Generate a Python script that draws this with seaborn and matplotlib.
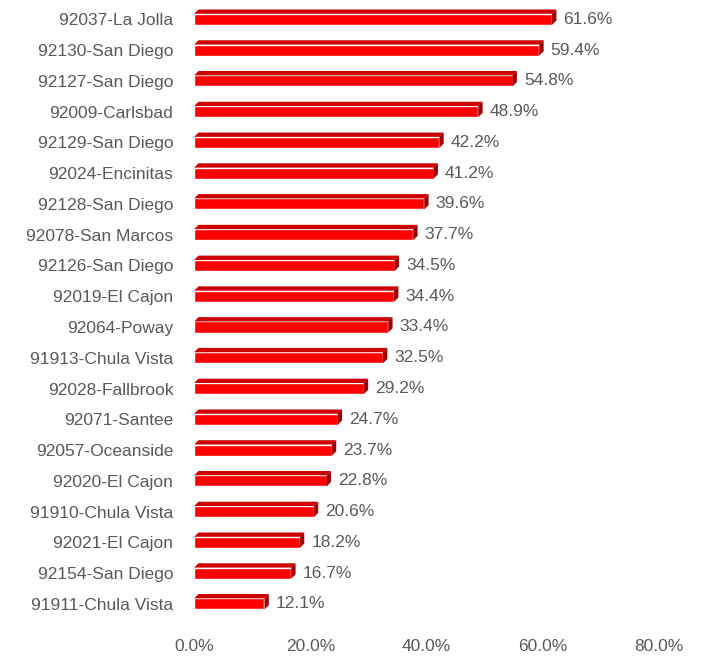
import numpy as np
import pandas as pd
import seaborn as sns
import matplotlib.pyplot as plt
from matplotlib.patches import Polygon
from matplotlib.ticker import FuncFormatter

zips = ['92037-La Jolla', '92130-San Diego', '92127-San Diego', '92009-Carlsbad',
        '92129-San Diego', '92024-Encinitas', '92128-San Diego', '92078-San Marcos',
        '92126-San Diego', '92019-El Cajon', '92064-Poway', '91913-Chula Vista',
        '92028-Fallbrook', '92071-Santee', '92057-Oceanside', '92020-El Cajon',
        '91910-Chula Vista', '92021-El Cajon', '92154-San Diego', '91911-Chula Vista']
share = [0.616, 0.594, 0.548, 0.489, 0.422, 0.412, 0.396, 0.377, 0.345, 0.344,
         0.334, 0.325, 0.292, 0.247, 0.237, 0.228, 0.206, 0.182, 0.167, 0.121]

df = pd.DataFrame({'zip': zips, 'share': share})

sns.set_style('white')
plt.rcParams['font.family'] = ['Liberation Sans', 'DejaVu Sans']
grey = '#595959'

fig = plt.figure(figsize=(7.01, 6.56), dpi=100)
ax = fig.add_axes([0.277, 0.056, 0.663, 0.938])

sns.barplot(data=df, x='share', y='zip', color='#ff0000', width=0.36,
            saturation=1, ax=ax, orient='h')
ax.set_xlim(0, 0.8)
ax.set_ylim(19.5, -0.5)

# fake 3D depth: top face and right side face
dx, dy = 0.0075, 0.14
for p in ax.patches:
    x0, yt = p.get_x(), p.get_y()
    x1, yb = x0 + p.get_width(), yt + p.get_height()
    top = Polygon([(x0, yt), (x0 + dx, yt - dy), (x1 + dx, yt - dy), (x1, yt)],
                  closed=True, facecolor='#cc0000', edgecolor='none')
    side = Polygon([(x1, yt), (x1 + dx, yt - dy), (x1 + dx, yb - dy), (x1, yb)],
                   closed=True, facecolor='#a00000', edgecolor='none')
    ax.add_patch(top)
    ax.add_patch(side)
    ax.text(x1 + dx + 0.012, yt + p.get_height() / 2, f'{p.get_width() * 100:.1f}%',
            va='center', ha='left', fontsize=12.5, color=grey)

ax.set_xticks([0, 0.2, 0.4, 0.6, 0.8])
ax.xaxis.set_major_formatter(FuncFormatter(lambda v, _: f'{v * 100:.1f}%'))
ax.tick_params(axis='x', length=0, pad=14, labelsize=12.5, colors=grey)
ax.tick_params(axis='y', length=0, pad=15, labelsize=12.5, colors=grey)
ax.set_xlabel('')
ax.set_ylabel('')
sns.despine(ax=ax, left=True, bottom=True)

fig.savefig('out.png', dpi=100)
